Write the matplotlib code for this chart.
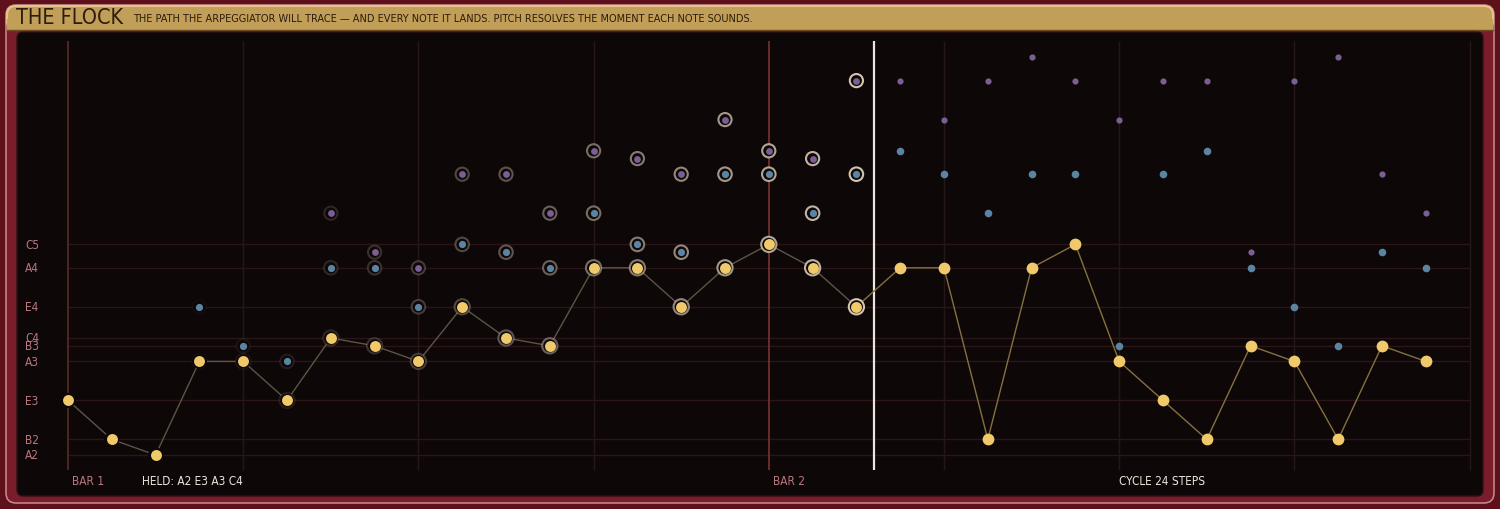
import matplotlib
matplotlib.use("Agg")
import matplotlib.pyplot as plt
import numpy as np
from matplotlib.patches import FancyBboxPatch, Rectangle
from matplotlib.transforms import blended_transform_factory

# ---------------- data ----------------
NOTE_NAMES = ["A2", "B2", "E3", "A3", "B3", "C4", "E4", "A4", "C5"]
NOTE_MIDI = {"A2": 45, "B2": 47, "E3": 52, "A3": 57, "B3": 59, "C4": 60, "E4": 64,
             "A4": 69, "B4": 71, "C5": 72, "E5": 76, "A5": 81, "B5": 83, "C6": 84,
             "E6": 88, "A6": 93, "C7": 96}
steps = list(range(32))
lead = ["E3", "B2", "A2", "A3", "A3", "E3", "C4", "B3", "A3", "E4", "C4", "B3",
        "A4", "A4", "E4", "A4", "C5", "A4", "E4", "A4", "A4", "B2", "A4", "C5",
        "A3", "E3", "B2", "B3", "A3", "B2", "B3", "A3"]
mid = [None, None, None, "E4", "B3", "A3", "A4", "A4", "E4", "C5", "B4", "A4",
       "E5", "C5", "B4", "A5", "A5", "E5", "A5", "C6", "A5", "E5", "A5", "A5",
       "B3", "A5", "C6", "A4", "E4", "B3", "B4", "A4"]
high = [None, None, None, None, None, None, "E5", "B4", "A4", "A5", "A5", "E5",
        "C6", "B5", "A5", "E6", "C6", "B5", "A6", "A6", "E6", "A6", "C7", "A6",
        "E6", "A6", "A6", "B4", "A6", "C7", "A5", "E5"]
playhead = 18.4
bar_steps = [0, 16]
beat_steps = [4, 8, 12, 20, 24, 28, 32]
held_label = "HELD: A2 E3 A3 C4"

# ---------------- styling ----------------
W, H = 1500, 510
fig = plt.figure(figsize=(W / 100, H / 100), dpi=100)
fig.patch.set_facecolor("#5f111b")

COND = dict(family="DejaVu Sans", fontstretch="condensed")

bg = fig.add_axes([0, 0, 1, 1])
bg.set_xlim(0, W)
bg.set_ylim(H, 0)
bg.axis("off")
# frame
bg.add_patch(FancyBboxPatch((6, 6), W - 12, H - 12, boxstyle="round,pad=0,rounding_size=10",
                            fc="#7a1c29", ec="#c98d90", lw=1.1, zorder=1))
# title bar
bg.add_patch(FancyBboxPatch((7, 7), W - 14, 24, boxstyle="round,pad=0,rounding_size=9",
                            fc="#c29f58", ec="#e4c488", lw=1.5, zorder=2))
bg.add_patch(Rectangle((7, 20), W - 14, 11, fc="#c29f58", ec="none", zorder=2))
bg.plot([7, W - 7], [31, 31], color="#6d4a24", lw=1, zorder=3)
# dark panel
bg.add_patch(FancyBboxPatch((17, 33), W - 34, 464, boxstyle="round,pad=0,rounding_size=6",
                            fc="#0e0708", ec="#2a1214", lw=1, zorder=2))
bg.text(16, 18, "THE FLOCK", fontsize=15.5, color="#2b1c0c", va="center", ha="left",
        zorder=4, **COND)
bg.text(133, 19.5, "THE PATH THE ARPEGGIATOR WILL TRACE \u2014 AND EVERY NOTE IT LANDS. "
        "PITCH RESOLVES THE MOMENT EACH NOTE SOUNDS.", fontsize=7.85, color="#2b1c0c",
        va="center", ha="left", zorder=4, **COND)

# data axes covering the panel
x0, x1, y0, y1 = 17, 1483, 33, 497
ax = fig.add_axes([x0 / W, 1 - y1 / H, (x1 - x0) / W, (y1 - y0) / H])
ax.set_facecolor("none")
ax.axis("off")
px_step = 43.8
ax.set_xlim((x0 - 68) / px_step, (x1 - 68) / px_step)
px_semi = 7.8
ax.set_ylim(45 - (y1 - 456) / px_semi, 45 + (456 - y0) / px_semi)

top_m = 45 + (456 - 42) / px_semi
bot_m = 45 - (471 - 456) / px_semi

# horizontal pitch lines
label_midis = [NOTE_MIDI[n] for n in NOTE_NAMES]
ax.hlines(label_midis, 0, 32, color="#2c1517", lw=1, zorder=1)
# vertical beat/bar lines
ax.vlines(beat_steps, bot_m, top_m, color="#251718", lw=1, zorder=1)
ax.vlines([bar_steps[0]], bot_m, top_m, color="#5a2a2a", lw=1.2, zorder=1)
ax.vlines([bar_steps[1]], bot_m, top_m, color="#7a3430", lw=1.2, zorder=1)
ax.vlines([playhead], bot_m, top_m, color="#ece6de", lw=1.6, zorder=2)

# pitch labels
tr = blended_transform_factory(ax.transAxes, ax.transData)
for n in NOTE_NAMES:
    ax.text((25 - x0) / (x1 - x0), NOTE_MIDI[n], n, transform=tr, fontsize=8.5,
            color="#b9777e", va="center", ha="left", **COND)

# bottom labels
ty = 45 - (482 - 456) / px_semi
ax.text(0.1, ty, "BAR 1", fontsize=8.5, color="#b9777e", va="center", ha="left", **COND)
ax.text(16.1, ty, "BAR 2", fontsize=8.5, color="#b9777e", va="center", ha="left", **COND)
ax.text((142 - 68) / px_step, ty, held_label, fontsize=8.5, color="#ece4da",
        va="center", ha="left", **COND)
ax.text(24, ty, "CYCLE 24 STEPS", fontsize=8.5, color="#ece4da", va="center",
        ha="left", **COND)

YEL, BLU, PUR = "#f0c96a", "#5a84a2", "#7a5e94"

lead_m = np.array([NOTE_MIDI[n] for n in lead], float)
st = np.array(steps)
# path line
ax.plot(st[:19], lead_m[:19], color="#5e5444", lw=1, zorder=3)
ax.plot(st[18:], lead_m[18:], color="#86703f", lw=1, zorder=3)


def ring_alpha(s):
    return float(np.clip((s - 2) / 16.0, 0, 1)) ** 1.3


def draw_voice(names, color, s_past, s_ring, s_future):
    xs, ys = [], []
    for s, n in zip(steps, names):
        if n is None:
            continue
        xs.append(s)
        ys.append(NOTE_MIDI[n])
    xs = np.array(xs)
    ys = np.array(ys, float)
    p = xs < playhead
    rc = [(0.82, 0.77, 0.69, ring_alpha(s)) for s in xs[p]]
    ax.scatter(xs[p], ys[p], s=s_ring, facecolors="#0e0708", edgecolors=rc,
               linewidths=1.5, zorder=4)
    ax.scatter(xs[p], ys[p], s=s_past, c=color, linewidths=0, zorder=5)
    ax.scatter(xs[~p], ys[~p], s=s_future, c=color, linewidths=0, zorder=5)


draw_voice(high, PUR, 24, 90, 20)
draw_voice(mid, BLU, 27, 95, 30)
draw_voice(lead, YEL, 62, 120, 72)

fig.savefig("out.png", dpi=100, facecolor=fig.get_facecolor())
